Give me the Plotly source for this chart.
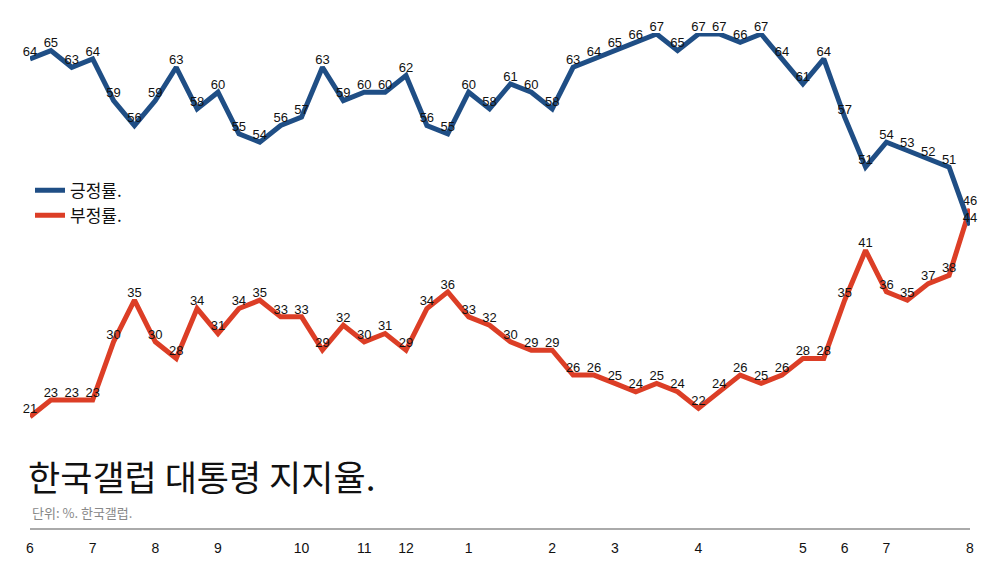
import plotly.graph_objects as go

# weekly Gallup approval (%)
positive = [64, 65, 63, 64, 59, 56, 59, 63, 58, 60, 55, 54, 56, 57, 63, 59,
            60, 60, 62, 56, 55, 60, 58, 61, 60, 58, 63, 64, 65, 66, 67, 65,
            67, 67, 66, 67, 64, 61, 64, 57, 51, 54, 53, 52, 51, 44]
negative = [21, 23, 23, 23, 30, 35, 30, 28, 34, 31, 34, 35, 33, 33, 29, 32,
            30, 31, 29, 34, 36, 33, 32, 30, 29, 29, 26, 26, 25, 24, 25, 24,
            22, 24, 26, 25, 26, 28, 28, 35, 41, 36, 35, 37, 38, 46]
weeks = list(range(len(positive)))

# month labels and the week index where each month starts
month_labels = ['6', '7', '8', '9', '10', '11', '12', '1', '2', '3', '4', '5', '6', '7', '8']
month_weeks = [0, 3, 6, 9, 13, 16, 18, 21, 25, 28, 32, 37, 39, 41, 45]

BLUE = '#1f4e85'
RED = '#dc3e26'

fig = go.Figure()

fig.add_trace(go.Scatter(
    x=weeks, y=negative, name='부정률.',
    mode='lines+text', text=[str(v) for v in negative],
    textposition='top center', textfont=dict(size=13, color='#111'),
    line=dict(color=RED, width=5), cliponaxis=False, legendrank=2
))

fig.add_trace(go.Scatter(
    x=weeks, y=positive, name='긍정률.',
    mode='lines+text', text=[str(v) for v in positive],
    textposition='top center', textfont=dict(size=13, color='#111'),
    line=dict(color=BLUE, width=5), cliponaxis=False, legendrank=1
))

fig.update_xaxes(
    range=[0, len(weeks) - 1],
    tickvals=month_weeks, ticktext=month_labels,
    showgrid=False, zeroline=False, automargin=False,
    showline=True, linecolor='#aaaaaa', linewidth=1.5,
    ticks='outside', ticklen=6, tickcolor='rgba(0,0,0,0)',
    tickfont=dict(size=14, color='#111')
)
fig.update_yaxes(range=[7.62, 67.12], visible=False, showgrid=False,
                 automargin=False)

fig.add_annotation(
    text='한국갤럽 대통령 지지율.', xref='paper', yref='paper',
    x=-0.004, y=0.107, xanchor='left', yanchor='middle', showarrow=False,
    font=dict(size=35, color='#111', family='Noto Sans CJK KR')
)
fig.add_annotation(
    text='단위: %. 한국갤럽.', xref='paper', yref='paper',
    x=0, y=0.032, xanchor='left', yanchor='middle', showarrow=False,
    font=dict(size=13, color='#888888', family='Noto Sans CJK KR')
)

fig.update_layout(
    width=1000, height=563,
    margin=dict(l=30, r=30, t=33, b=35),
    paper_bgcolor='white', plot_bgcolor='white',
    font=dict(family='Liberation Sans, Noto Sans CJK KR', color='#111'),
    showlegend=True,
    legend=dict(
        x=0, y=0.718, xanchor='left', yanchor='top',
        font=dict(size=17, family='Noto Sans CJK KR'),
        bgcolor='rgba(0,0,0,0)', itemwidth=30, tracegroupgap=0
    )
)

# page body has an 8px default margin; drop it so the figure sits at 0,0
fig.write_html('out.html', config={'displayModeBar': False},
               post_script="document.body.style.margin='0';")
